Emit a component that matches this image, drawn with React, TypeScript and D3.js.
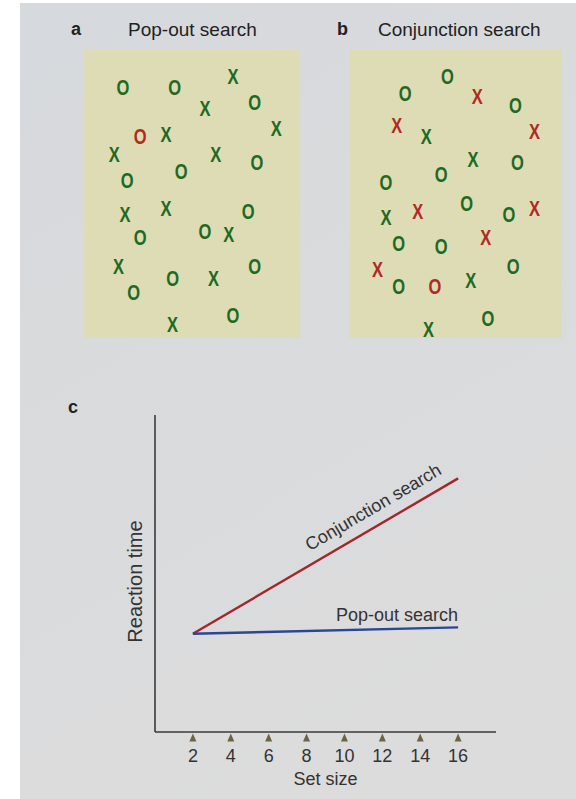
import React from 'react'
import * as d3 from 'd3'

// panel a / b symbols, in panel units (0-100 each way)
const popoutSymbols = [
  { x: 18, y: 13, s: 'O', c: 'g' }, { x: 42, y: 13, s: 'O', c: 'g' }, { x: 69, y: 9, s: 'X', c: 'g' },
  { x: 56, y: 20, s: 'X', c: 'g' }, { x: 79, y: 18, s: 'O', c: 'g' }, { x: 26, y: 30, s: 'O', c: 'r' },
  { x: 38, y: 29, s: 'X', c: 'g' }, { x: 89, y: 27, s: 'X', c: 'g' }, { x: 14, y: 36, s: 'X', c: 'g' },
  { x: 61, y: 36, s: 'X', c: 'g' }, { x: 80, y: 39, s: 'O', c: 'g' }, { x: 45, y: 42, s: 'O', c: 'g' },
  { x: 20, y: 45, s: 'O', c: 'g' }, { x: 38, y: 55, s: 'X', c: 'g' }, { x: 19, y: 57, s: 'X', c: 'g' },
  { x: 76, y: 56, s: 'O', c: 'g' }, { x: 56, y: 63, s: 'O', c: 'g' }, { x: 67, y: 64, s: 'X', c: 'g' },
  { x: 26, y: 65, s: 'O', c: 'g' }, { x: 16, y: 75, s: 'X', c: 'g' }, { x: 41, y: 79, s: 'O', c: 'g' },
  { x: 60, y: 79, s: 'X', c: 'g' }, { x: 79, y: 75, s: 'O', c: 'g' }, { x: 23, y: 84, s: 'O', c: 'g' },
  { x: 69, y: 92, s: 'O', c: 'g' }, { x: 41, y: 95, s: 'X', c: 'g' },
]

const conjunctionSymbols = [
  { x: 26, y: 15, s: 'O', c: 'g' }, { x: 46, y: 9, s: 'O', c: 'g' }, { x: 60, y: 16, s: 'X', c: 'r' },
  { x: 78, y: 19, s: 'O', c: 'g' }, { x: 22, y: 26, s: 'X', c: 'r' }, { x: 36, y: 30, s: 'X', c: 'g' },
  { x: 87, y: 28, s: 'X', c: 'r' }, { x: 58, y: 38, s: 'X', c: 'g' }, { x: 79, y: 39, s: 'O', c: 'g' },
  { x: 43, y: 43, s: 'O', c: 'g' }, { x: 17, y: 46, s: 'O', c: 'g' }, { x: 17, y: 58, s: 'X', c: 'g' },
  { x: 32, y: 56, s: 'X', c: 'r' }, { x: 55, y: 53, s: 'O', c: 'g' }, { x: 75, y: 57, s: 'O', c: 'g' },
  { x: 87, y: 55, s: 'X', c: 'r' }, { x: 23, y: 67, s: 'O', c: 'g' }, { x: 43, y: 68, s: 'O', c: 'g' },
  { x: 64, y: 65, s: 'X', c: 'r' }, { x: 13, y: 76, s: 'X', c: 'r' }, { x: 23, y: 82, s: 'O', c: 'g' },
  { x: 40, y: 82, s: 'O', c: 'r' }, { x: 57, y: 80, s: 'X', c: 'g' }, { x: 77, y: 75, s: 'O', c: 'g' },
  { x: 65, y: 93, s: 'O', c: 'g' }, { x: 37, y: 97, s: 'X', c: 'g' },
]

// panel c
const setSizes = [2, 4, 6, 8, 10, 12, 14, 16]
const lineSetSizes = [2, 16]
const conjunctionRT = [31, 80]
const popoutRT = [31, 33]

const W = 576
const H = 799
const font = '"Liberation Sans", Arial, sans-serif'
const symColor = { g: '#1d6a22', r: '#b02a22' }

const Panel = ({ x0, x1, y0, y1, symbols, letter, title, titleX }) => {
  const sx = d3.scaleLinear().domain([0, 100]).range([x0, x1])
  const sy = d3.scaleLinear().domain([0, 100]).range([y0, y1])
  return (
    <g>
      <text x={x0 - 13} y={35} fontSize={18} fontWeight="bold" fill="#222">{letter}</text>
      <text x={titleX} y={36} fontSize={19} fill="#222">{title}</text>
      <rect x={x0} y={y0} width={x1 - x0} height={y1 - y0} fill="#dedcb4" />
      {symbols.map((d, i) => (
        <text key={i} transform={`translate(${sx(d.x)},${sy(d.y) + 8}) scale(0.75,1)`}
          textAnchor="middle" fontSize={22} fontWeight="bold" fill={symColor[d.c]}>{d.s}</text>
      ))}
    </g>
  )
}

export default function App() {
  const x = d3.scaleLinear().domain([0, 18]).range([155, 496])
  const y = d3.scaleLinear().domain([0, 100]).range([732, 415])
  const line = d3.line().x(d => x(d[0])).y(d => y(d[1]))
  const conj = lineSetSizes.map((s, i) => [s, conjunctionRT[i]])
  const pop = lineSetSizes.map((s, i) => [s, popoutRT[i]])

  const ang = Math.atan2(y(conjunctionRT[1]) - y(conjunctionRT[0]), x(16) - x(2)) * 180 / Math.PI
  const lx = 12
  const ly = d3.scaleLinear().domain(lineSetSizes).range(conjunctionRT)(lx)
  const rad = ang * Math.PI / 180
  const off = 12
  const cx = x(lx) + Math.sin(rad) * off
  const cy = y(ly) - Math.cos(rad) * off

  return (
    <div style={{ position: 'absolute', left: 0, top: 0 }}>
      <svg width={W} height={H} style={{ display: 'block', fontFamily: font }}>
        <defs>
          <linearGradient id="bg" x1="0" y1="0" x2="0.4" y2="1">
            <stop offset="0" stopColor="#d6d9dd" />
            <stop offset="1" stopColor="#dcdcdc" />
          </linearGradient>
        </defs>
        <rect width={W} height={H} fill="#ffffff" />
        <rect x={20} y={3} width={W - 20} height={H - 3} fill="url(#bg)" />

        <Panel x0={84} x1={300} y0={50} y1={338} symbols={popoutSymbols}
          letter="a" title="Pop-out search" titleX={128} />
        <Panel x0={350} x1={562} y0={50} y1={338} symbols={conjunctionSymbols}
          letter="b" title="Conjunction search" titleX={378} />

        <text x={68} y={413} fontSize={18} fontWeight="bold" fill="#222">c</text>

        <g>
          <line x1={x(0)} x2={x(0)} y1={y(100)} y2={y(0)} stroke="#3a3a3a" strokeWidth={1.6} />
          <line x1={x(0)} x2={x(18)} y1={y(0)} y2={y(0)} stroke="#3a3a3a" strokeWidth={1.6} />
          {setSizes.map(s => (
            <g key={s} transform={`translate(${x(s)},${y(0)})`}>
              <path d="M0,1.5 L3.5,9.5 L-3.5,9.5 Z" fill="#6b6444" />
              <text y={30} textAnchor="middle" fontSize={18} fill="#333">{s}</text>
            </g>
          ))}
          <text x={x(9)} y={785} textAnchor="middle" fontSize={18} fill="#333">Set size</text>
          <text transform={`translate(142,${(y(0) + y(100)) / 2 + 8}) rotate(-90)`}
            textAnchor="middle" fontSize={20} fill="#333">Reaction time</text>
        </g>

        <path d={line(conj)} fill="none" stroke="#a3262b" strokeWidth={2.4} />
        <path d={line(pop)} fill="none" stroke="#2a4695" strokeWidth={2.4} />

        <text transform={`translate(${cx},${cy}) rotate(${ang})`} textAnchor="middle"
          fontSize={18} fill="#333">Conjunction search</text>
        <text x={x(16)} y={y(popoutRT[1]) - 6} textAnchor="end" fontSize={18} fill="#333">Pop-out search</text>
      </svg>
    </div>
  )
}
